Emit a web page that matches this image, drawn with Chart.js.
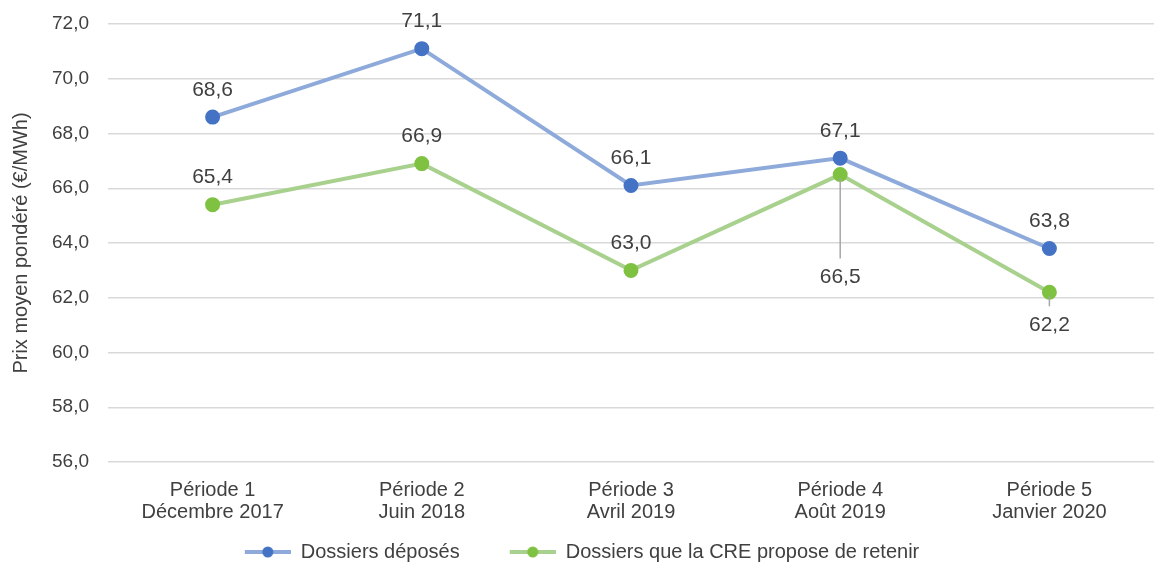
<!DOCTYPE html>
<html lang="fr">
<head>
    <meta charset="UTF-8">
    <title>Prix moyen pondéré</title>
    <script src="https://cdn.jsdelivr.net/npm/chart.js"></script>
    <style>
        body { margin: 0; background: #fff; }
        .chart-container { width: 1154px; height: 565px; }
    </style>
</head>
<body>
    <div class="chart-container">
        <canvas id="prixChart" width="1154" height="565"></canvas>
    </div>
    <script>
        // Données
        const periodes = [
            ['Période 1', 'Décembre 2017'],
            ['Période 2', 'Juin 2018'],
            ['Période 3', 'Avril 2019'],
            ['Période 4', 'Août 2019'],
            ['Période 5', 'Janvier 2020']
        ];
        const dossiersDeposes = [68.6, 71.1, 66.1, 67.1, 63.8];
        const dossiersRetenus = [65.4, 66.9, 63.0, 66.5, 62.2];
        const yMin = 56;
        const yMax = 72;
        const yStep = 2;

        const fmt = v => v.toFixed(1).replace('.', ',');
        const textColor = '#404040';
        const fontFamily = '"Liberation Sans", Arial, sans-serif';

        // petite icone ligne + point pour la légende (marge transparente à gauche)
        function legendIcon(lineColor, dotColor) {
            const c = document.createElement('canvas');
            c.width = 86; c.height = 12;
            const g = c.getContext('2d');
            g.strokeStyle = lineColor;
            g.lineWidth = 4;
            g.beginPath(); g.moveTo(40, 6); g.lineTo(86, 6); g.stroke();
            g.fillStyle = dotColor;
            g.beginPath(); g.arc(63, 6, 5.5, 0, Math.PI * 2); g.fill();
            return c;
        }

        // Etiquettes de valeurs (avec trait de rappel pour celles placées dessous)
        const dataLabels = {
            id: 'dataLabels',
            afterDatasetsDraw(chart) {
                const ctx = chart.ctx;
                ctx.save();
                ctx.font = '21px ' + fontFamily;
                ctx.fillStyle = textColor;
                ctx.textAlign = 'center';
                ctx.textBaseline = 'middle';
                chart.data.datasets.forEach((ds, i) => {
                    const meta = chart.getDatasetMeta(i);
                    meta.data.forEach((pt, j) => {
                        const below = ds.labelBelow ? ds.labelBelow[j] : 0;
                        if (below) {
                            ctx.strokeStyle = '#a6a6a6';
                            ctx.lineWidth = 1.5;
                            ctx.beginPath();
                            ctx.moveTo(pt.x, pt.y + 4);
                            ctx.lineTo(pt.x, pt.y + below - 19);
                            ctx.stroke();
                            ctx.fillText(fmt(ds.data[j]), pt.x, pt.y + below);
                        } else {
                            ctx.fillText(fmt(ds.data[j]), pt.x, pt.y - 27);
                        }
                    });
                });
                ctx.restore();
            }
        };

        // hauteur fixe pour la légende
        const legendHeight = {
            id: 'legendHeight',
            afterInit(chart) {
                const lg = chart.legend;
                const fit = lg.fit;
                lg.fit = function () {
                    fit.call(this);
                    this.height = 33;
                };
            },
            afterLayout(chart) {
                chart.legend.left -= 15;
                chart.legend.right -= 15;
            }
        };

        const ctx = document.getElementById('prixChart').getContext('2d');
        new Chart(ctx, {
            type: 'line',
            data: {
                labels: periodes,
                datasets: [{
                    label: 'Dossiers déposés',
                    data: dossiersDeposes,
                    borderColor: '#8eaadb',
                    backgroundColor: '#4472c4',
                    pointBackgroundColor: '#4472c4',
                    pointBorderColor: '#4472c4',
                    borderWidth: 4,
                    pointRadius: 5.5,
                    tension: 0,
                    labelBelow: [0, 0, 0, 0, 0]
                }, {
                    label: 'Dossiers que la CRE propose de retenir',
                    data: dossiersRetenus,
                    borderColor: '#a9d18e',
                    backgroundColor: '#7fc241',
                    pointBackgroundColor: '#7fc241',
                    pointBorderColor: '#7fc241',
                    borderWidth: 4,
                    pointRadius: 5.5,
                    tension: 0,
                    labelBelow: [0, 0, 0, 103, 33]
                }]
            },
            options: {
                responsive: false,
                animation: false,
                layout: { autoPadding: false, padding: { top: 24, right: 0, bottom: 0, left: 0 } },
                scales: {
                    x: {
                        offset: true,
                        afterFit(scale) { scale.height = 70; },
                        grid: { display: false, drawTicks: false },
                        border: { display: false },
                        ticks: {
                            color: textColor,
                            font: { family: fontFamily, size: 20, lineHeight: 1.1 },
                            padding: 17,
                            maxRotation: 0
                        }
                    },
                    y: {
                        min: yMin,
                        max: yMax,
                        afterFit(scale) {
                            scale.width = 108;
                            scale.paddingTop = 0;
                            scale.paddingBottom = 0;
                        },
                        grid: { color: '#d9d9d9', lineWidth: 1.5, drawTicks: false },
                        border: { display: false },
                        ticks: {
                            stepSize: yStep,
                            color: textColor,
                            font: { family: fontFamily, size: 19 },
                            padding: 19,
                            callback: v => fmt(v)
                        },
                        title: {
                            display: true,
                            text: 'Prix moyen pondéré (€/MWh)',
                            color: textColor,
                            font: { family: fontFamily, size: 20 },
                            padding: { top: 9, bottom: 0 }
                        }
                    }
                },
                plugins: {
                    tooltip: { enabled: false },
                    legend: {
                        position: 'bottom',
                        labels: {
                            color: textColor,
                            font: { family: fontFamily, size: 20 },
                            usePointStyle: true,
                            pointStyleWidth: 86,
                            padding: 10,
                            generateLabels(chart) {
                                const items = Chart.defaults.plugins.legend.labels.generateLabels(chart);
                                const icons = [legendIcon('#8eaadb', '#4472c4'), legendIcon('#a9d18e', '#7fc241')];
                                items.forEach((it, i) => { it.pointStyle = icons[i]; });
                                return items;
                            }
                        }
                    }
                }
            },
            plugins: [dataLabels, legendHeight]
        });
    </script>
</body>
</html>
